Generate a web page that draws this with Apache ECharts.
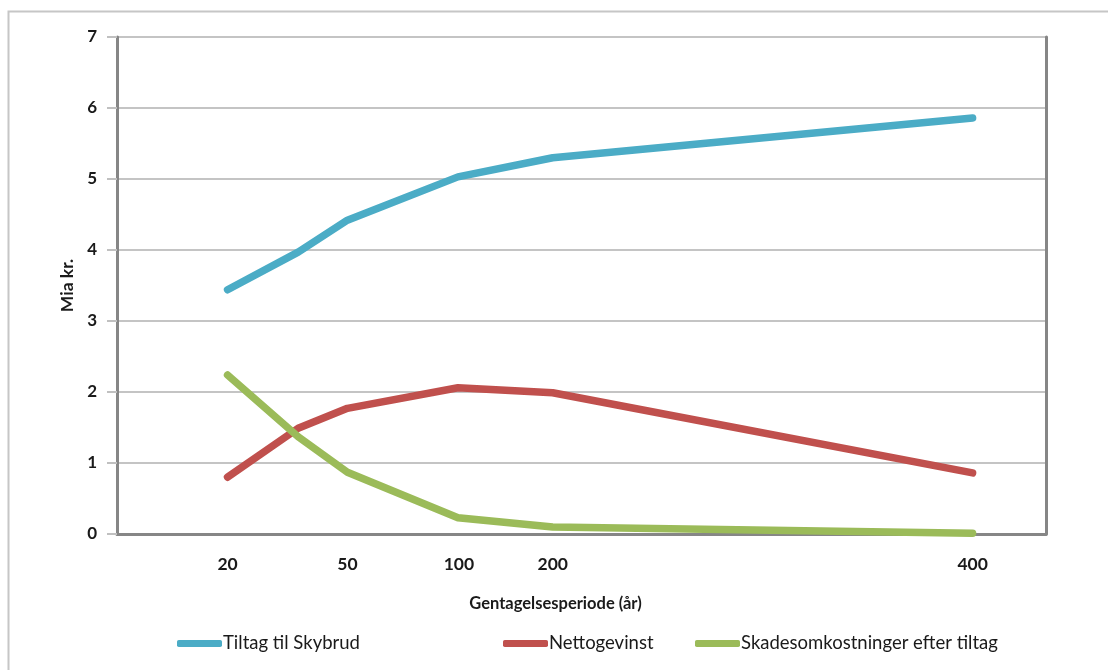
<!DOCTYPE html>
<html>
<head>
<meta charset="utf-8">
<script src="https://cdn.jsdelivr.net/npm/echarts@6/dist/echarts.min.js"></script>
<style>
html,body{margin:0;padding:0;background:#fff;}
#chart{width:1108px;height:670px;}
</style>
</head>
<body>
<div id="chart"></div>
<script>
// Positions of the points along the (hand-labelled) x axis, 0–100 scale of the plot width
const xPositions = [11.9, 19.5, 24.8, 36.7, 46.9, 92.1];
// Tick labels (return period, years) and where they sit on that axis
const xTickLabels = ['20', '50', '100', '200', '400'];
const xTickPositions = [11.9, 24.8, 36.8, 46.9, 92.1];

const seriesNames = ['Tiltag til Skybrud', 'Nettogevinst', 'Skadesomkostninger efter tiltag'];
const tiltagTilSkybrud = [3.44, 3.97, 4.42, 5.03, 5.30, 5.86];
const nettogevinst = [0.80, 1.49, 1.77, 2.06, 1.99, 0.86];
const skadesomkostninger = [2.24, 1.37, 0.87, 0.23, 0.10, 0.01];

const colors = ['#4BACC6', '#C0504D', '#9BBB59'];
const FONT = 'Lato, "Noto Sans", sans-serif';

function pairs(ys) { return ys.map((y, i) => [xPositions[i], y]); }

const chart = echarts.init(document.getElementById('chart'));
const seriesData = [tiltagTilSkybrud, nettogevinst, skadesomkostninger];
const legendLefts = [172, 498, 690];

chart.setOption({
  animation: false,
  backgroundColor: '#fff',
  textStyle: { fontFamily: FONT },
  grid: { left: 117, right: 62, top: 37, bottom: 136 },
  xAxis: {
    type: 'value', min: 0, max: 100,
    name: 'Gentagelsesperiode (år)', nameLocation: 'middle', nameGap: 61,
    nameTextStyle: { fontFamily: FONT, fontWeight: 'bold', fontSize: 16.5, color: '#1a1a1a', padding: [0, 52, 0, 0] },
    axisLine: { show: true, onZero: false, lineStyle: { color: '#868686', width: 3 } },
    axisTick: { show: false },
    splitLine: { show: false },
    axisLabel: {
      customValues: xTickPositions,
      margin: 21,
      fontFamily: FONT, fontWeight: 'bold', fontSize: 17.5, color: '#1a1a1a',
      formatter: v => { const i = xTickPositions.indexOf(v); return i >= 0 ? xTickLabels[i] : ''; }
    }
  },
  yAxis: [{
    type: 'value', min: 0, max: 7, interval: 1,
    name: 'Mia kr.', nameLocation: 'middle', nameGap: 39,
    nameTextStyle: { fontFamily: FONT, fontWeight: 'bold', fontSize: 17.5, color: '#1a1a1a' },
    axisLine: { show: true, lineStyle: { color: '#868686', width: 3 } },
    axisTick: { show: true, length: 10, lineStyle: { color: '#c0c0c0', width: 2 } },
    splitLine: { show: true, lineStyle: { color: '#c4c4c4', width: 2 } },
    axisLabel: { margin: 20, fontFamily: FONT, fontWeight: 'bold', fontSize: 17, color: '#1a1a1a' }
  }, {
    type: 'value', min: 0, max: 7, interval: 1, position: 'right',
    axisLine: { show: true, lineStyle: { color: '#868686', width: 3 } },
    axisTick: { show: false }, axisLabel: { show: false }, splitLine: { show: false }
  }],
  legend: seriesNames.map((n, i) => ({
    data: [n], left: legendLefts[i], top: 629,
    icon: 'roundRect', itemWidth: 45, itemHeight: 7,
    textStyle: { fontFamily: FONT, fontSize: 18.5, color: '#1a1a1a', padding: [0, 0, 0, -4] }
  })),
  series: seriesNames.map((n, i) => ({
    name: n, type: 'line', yAxisIndex: 0,
    data: pairs(seriesData[i]),
    symbol: 'none',
    color: colors[i],
    lineStyle: { width: 7.5, color: colors[i], cap: 'round', join: 'round' },
    itemStyle: { color: colors[i] }
  })),
  graphic: [{
    type: 'rect', silent: true,
    shape: { x: 8.5, y: 11.5, width: 1200, height: 800 },
    style: { fill: 'none', stroke: '#c6c6c6', lineWidth: 2 }
  }]
});
</script>
</body>
</html>
